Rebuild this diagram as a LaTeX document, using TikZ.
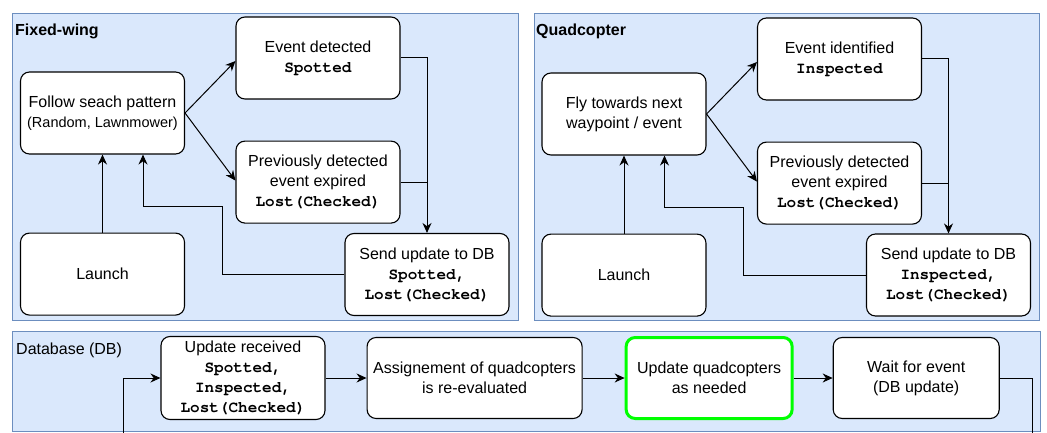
\documentclass[tikz,border=0pt]{standalone}
\usepackage{fontspec}
\setmainfont{Liberation Sans}
\setmonofont{TeX Gyre Cursor}
\usepackage{xcolor}
\usetikzlibrary{arrows.meta, positioning, calc}
\definecolor{panelblue}{HTML}{DAE8FC}
\definecolor{paneledge}{HTML}{6C8EBF}
\definecolor{needgreen}{HTML}{00FF00}
\newcommand{\evstate}[1]{\texttt{\bfseries #1}}

\begin{document}
\begin{tikzpicture}[
    x=1pt, y=1pt,
    node distance = 41pt and 41pt,
    font=\fontsize{16}{20}\selectfont,
    box/.style={draw, line width=1.1pt, rounded corners=9pt, fill=white, minimum width=164pt, minimum height=82pt, align=center, inner sep=2pt},
    panel/.style={fill=panelblue, draw=paneledge, line width=0.8pt},
    paneltitle/.style={anchor=west, inner sep=0pt},
    arrow/.style={-{Stealth[length=10pt,width=9pt]}, line width=1pt},
    link/.style={line width=1pt}
]
\useasboundingbox (0,0) rectangle (1047,432);
\clip (0,0) rectangle (1047,432);

% Fixed-wing
\begin{scope}
\draw[panel] (12.5,112) rectangle (518,419);
\node[paneltitle, font=\fontsize{16}{20}\selectfont\bfseries] at (15,401) {Fixed-wing};
\node[box] (follow) at (102.5,319) {Follow seach pattern\\ {\fontsize{14.5}{18}\selectfont(Random, Lawnmower)}};
\node[box, below=78pt of follow] (launch) {Launch};
\node[box] (spotted) at (318,374) {Event detected\\ \evstate{Spotted}};
\node[box, below=of spotted] (lostfw) {Previously detected\\ event expired\\ \evstate{Lost(Checked)}};
\node[box] (sendfw) at (427,157.5) {Send update to DB\\ \evstate{Spotted,}\\ \evstate{Lost(Checked)}};

\draw[arrow] (launch) -- (follow);
\draw[arrow] (follow.east) -- ([yshift=-3pt]spotted.west);
\draw[arrow] (follow.east) -- ([yshift=1.5pt]lostfw.west);
\draw[arrow] (spotted.east) -| (sendfw.north);
\draw[link] (lostfw.east) -- (lostfw.east -| sendfw.north);
\draw[arrow] (sendfw.west) -- ++(-122,0) |- ($(follow.south)+(40.5,-52)$) -- ($(follow.south)+(40.5,0)$);
\end{scope}

% Quadcopter
\begin{scope}[xshift=521.5pt]
\draw[panel] (12.5,112) rectangle (518,419);
\node[paneltitle, font=\fontsize{16}{20}\selectfont\bfseries] at (14.5,401) {Quadcopter};
\node[box] (fly) at (102.5,318) {Fly towards next\\ waypoint / event};
\node[box, below=78pt of fly] (launchq) {Launch};
\node[box] (inspected) at (318,373) {Event identified\\ \evstate{Inspected}};
\node[box, below=of inspected] (lostq) {Previously detected\\ event expired\\ \evstate{Lost(Checked)}};
\node[box] (sendq) at (427,157) {Send update to DB\\ \evstate{Inspected,}\\ \evstate{Lost(Checked)}};

\draw[arrow] (launchq) -- (fly);
\draw[arrow] (fly.east) -- ([yshift=-3pt]inspected.west);
\draw[arrow] (fly.east) -- ([yshift=1.5pt]lostq.west);
\draw[arrow] (inspected.east) -| (sendq.north);
\draw[link] (lostq.east) -- (lostq.east -| sendq.north);
\draw[arrow] (sendq.west) -- ++(-122,0) |- ($(fly.south)+(40.5,-52)$) -- ($(fly.south)+(40.5,0)$);
\end{scope}

% Database
\draw[panel] (12,1) rectangle (1040,101);
\node[paneltitle] at (16,82) {Database (DB)};
\node[box, minimum height=83pt] (recv) at (243,54) {Update received\\ \evstate{Spotted,}\\ \evstate{Inspected,}\\ \evstate{Lost(Checked)}};
\node[box, minimum width=215pt, minimum height=81pt, right=41pt of recv] (assign) {Assignement of quadcopters\\ is re-evaluated};
\node[box, minimum width=166pt, minimum height=81pt, draw=needgreen, line width=3pt, right=42pt of assign] (updq) {Update quadcopters\\ as needed};
\node[box, minimum width=166pt, minimum height=81pt, right=39pt of updq] (wait) {Wait for event\\ (DB update)};

\draw[arrow] (recv) -- (assign);
\draw[arrow] (assign) -- (updq);
\draw[arrow] (updq) -- (wait);
\draw[arrow] (wait.east) -- ++(33,0) -- ++(0,-70) -| ($(recv.west)+(-37,0)$) -- (recv.west);

\end{tikzpicture}
\end{document}
